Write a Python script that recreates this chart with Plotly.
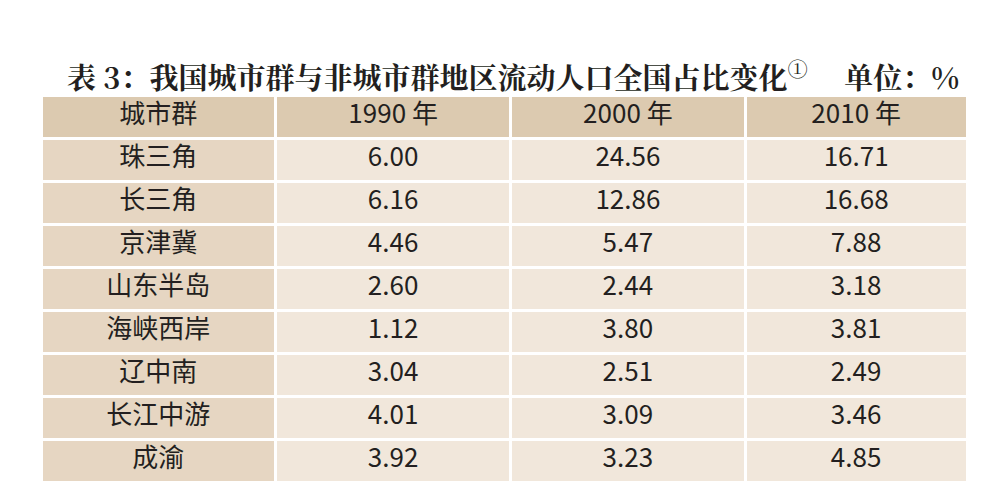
import plotly.graph_objects as go

headers = ["城市群", "1990 年", "2000 年", "2010 年"]
regions = ["珠三角", "长三角", "京津冀", "山东半岛", "海峡西岸", "辽中南", "长江中游", "成渝"]
y1990 = ["6.00", "6.16", "4.46", "2.60", "1.12", "3.04", "4.01", "3.92"]
y2000 = ["24.56", "12.86", "5.47", "2.44", "3.80", "2.51", "3.09", "3.23"]
y2010 = ["16.71", "16.68", "7.88", "3.18", "3.81", "2.49", "3.46", "4.85"]

font = dict(family="Noto Sans CJK SC", size=26, color="#231f20")
fig = go.Figure(go.Table(
    domain=dict(x=[0.033, 0.96], y=[0, 0.819]),
    columnwidth=[235, 235, 235, 222],
    header=dict(values=headers, fill_color="#dccab0", line=dict(color="white", width=3),
                font=font, align="center", height=43),
    cells=dict(values=[regions, y1990, y2000, y2010],
               fill_color=[["#e6d6c2"] * 8, ["#f1e7db"] * 8, ["#f1e7db"] * 8, ["#f1e7db"] * 8],
               line=dict(color="white", width=3), font=font, align="center", height=43),
))
fig.add_annotation(text="<b>表 3：我国城市群与非城市群地区流动人口全国占比变化</b><sup>①</sup>　 <b>单位：%</b>",
                   x=0.505, y=1 - 44 / 481, xref="paper", yref="paper", showarrow=False,
                   font=dict(family="Noto Serif CJK SC, Noto Sans CJK SC", size=29, color="#231f20"))
fig.update_layout(width=1000, height=481, margin=dict(l=0, r=0, t=0, b=0),
                  paper_bgcolor="white", plot_bgcolor="white")
fig.write_html("out.html")
